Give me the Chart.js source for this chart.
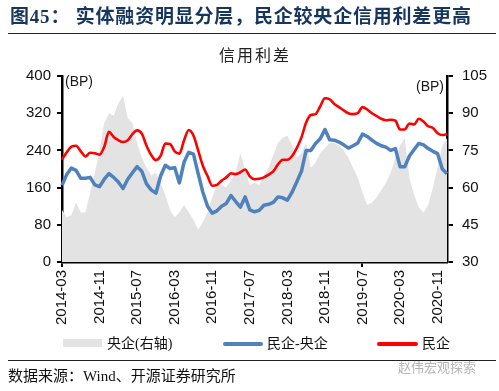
<!DOCTYPE html>
<html>
<head>
<meta charset="utf-8">
<script src="https://cdn.jsdelivr.net/npm/chart.js@4/dist/chart.umd.min.js"></script>
<style>
  body { margin: 0; background: #fff; }
  #page { position: relative; width: 499px; height: 391px; overflow: hidden; background: #fff; }
  #chart { position: absolute; left: 0; top: 0; }
  .txt { position: absolute; white-space: nowrap; font-family: "Liberation Serif", "Noto Sans CJK SC", serif; }
  .rule { position: absolute; left: 8px; width: 488px; height: 1px; background: #222; }
  .lg { position: absolute; }
</style>
</head>
<body>
<div id="page">
  <canvas id="chart" width="499" height="391"></canvas>
  <div class="txt" style="left:10px; top:6px; font-size:19px; line-height:22px; font-weight:bold; color:#17365d; letter-spacing:0.8px;">图45：&nbsp;实体融资明显分层，民企较央企信用利差更高</div>
  <div class="rule" style="top:33px;"></div>
  <div class="txt" style="left:219px; top:45px; font-size:16px; line-height:18px; color:#222; letter-spacing:2px; font-family:'Noto Sans CJK SC', sans-serif;">信用利差</div>

  <div class="lg" style="left:63px; top:339px; width:39px; height:8px; background:#e3e3e3;"></div>
  <div class="txt" style="left:107px; top:335px; font-size:14px; line-height:18px; color:#111;">央企(右轴)</div>
  <div class="lg" style="left:223px; top:342px; width:40px; height:4px; border-radius:2px; background:#4f81bd;"></div>
  <div class="txt" style="left:267px; top:335px; font-size:14px; line-height:18px; color:#111;">民企-央企</div>
  <div class="lg" style="left:377px; top:342px; width:41px; height:4px; border-radius:2px; background:#ff0000;"></div>
  <div class="txt" style="left:422px; top:335px; font-size:14px; line-height:18px; color:#111;">民企</div>

  <div class="rule" style="top:360px;"></div>
  <div class="txt" style="left:8px; top:367px; font-size:15px; line-height:19px; color:#111;">数据来源：Wind、开源证券研究所</div>
  <div class="txt" style="left:398px; top:359px; font-size:13px; line-height:16px; color:#b5b5b5; font-family:'Noto Sans CJK SC', sans-serif;">赵伟宏观探索</div>
</div>

<script>
(function() {

// monthly observations, 2014-03 .. 2021-01
var START_YEAR = 2014, START_MONTH = 3, N_MONTHS = 83;

var tickLabels = ['2014-03', '2014-11', '2015-07', '2016-03', '2016-11', '2017-07',
                  '2018-03', '2018-11', '2019-07', '2020-03', '2020-11'];

// 民企 (BP, left axis)
var privateSpread = [
    220, 236, 248, 250, 238, 227, 235, 234, 231, 248,
    280, 269, 262, 258, 262, 275, 283, 276, 250, 230,
    219, 228, 255, 254, 238, 233, 262, 284, 272, 240,
    207, 185, 164, 166, 175, 182, 191, 189, 193, 199,
    184, 178, 179, 182, 188, 195, 210, 220, 220, 228,
    245, 268, 300, 316, 318, 335, 352, 350, 340, 333,
    326, 320, 318, 320, 333, 328, 320, 314, 308, 305,
    306, 304, 285, 285, 298, 296, 308, 302, 292, 288,
    277, 273, 275
];

// 民企-央企 (BP, left axis)
var gapSpread = [
    165, 188, 202, 197, 180, 180, 182, 166, 162, 178,
    190, 182, 172, 158, 178, 192, 205, 195, 168, 155,
    148, 185, 208, 201, 203, 170, 215, 236, 232, 190,
    150, 120, 105, 110, 120, 126, 143, 130, 118, 140,
    112, 108, 111, 122, 124, 128, 140, 138, 133, 150,
    172, 195, 240, 240, 255, 265, 285, 263, 262, 258,
    252, 245, 250, 256, 275, 270, 262, 255, 250, 247,
    240, 244, 205, 205, 228, 242, 255, 252, 244, 238,
    233, 200, 190
];

// 央企 (BP, right axis)
var soeSpread = [
    51, 48, 49, 54, 50, 50, 58, 66, 75, 86,
    90, 89, 94, 97, 88, 86, 78, 72, 68, 65,
    66, 62, 57, 51, 48, 50, 53, 50, 47, 43,
    46, 50, 56, 61, 61, 60, 63, 66, 74, 67,
    61, 62, 61, 65, 68, 73, 78, 80, 81, 77,
    72, 74, 78, 68, 70, 74, 76, 78, 78, 77,
    75, 72, 68, 64, 58, 53, 54, 56, 59, 62,
    66, 72, 77, 80, 64, 57, 52, 50, 53, 60,
    68, 77, 80
];

var months = [];
var y = START_YEAR, m = START_MONTH;
for (var i = 0; i < N_MONTHS; i++) {
    months.push(y + '-' + (m < 10 ? '0' + m : m));
    m++;
    if (m > 12) { m = 1; y++; }
}

function isTick(i) { return tickLabels.indexOf(months[i]) !== -1; }

var NUM_FONT = { family: '"Liberation Sans", Arial, sans-serif', size: 15 };

var bpLabels = {
    id: 'bpLabels',
    afterDraw: function(chart) {
        var a = chart.chartArea, c = chart.ctx;
        c.save();
        c.font = '14px "Liberation Sans", Arial, sans-serif';
        c.fillStyle = '#1a1a1a';
        c.textBaseline = 'middle';
        c.textAlign = 'left';
        c.fillText('(BP)', a.left + 3, a.top + 6);
        c.textAlign = 'right';
        c.fillText('(BP)', a.right - 3, a.top + 11);
        c.restore();
    }
};

new Chart(document.getElementById('chart').getContext('2d'), {
    type: 'line',
    data: {
        labels: months,
        datasets: [
            { label: '民企', data: privateSpread, yAxisID: 'y', borderColor: '#ff0000', borderWidth: 2.6,
              pointRadius: 0, fill: false, order: 1, borderJoinStyle: 'round', cubicInterpolationMode: 'monotone' },
            { label: '民企-央企', data: gapSpread, yAxisID: 'y', borderColor: '#4f81bd', borderWidth: 3.5,
              pointRadius: 0, fill: false, order: 2, borderJoinStyle: 'round' },
            { label: '央企(右轴)', data: soeSpread, yAxisID: 'y1', borderWidth: 0, borderColor: 'rgba(0,0,0,0)',
              backgroundColor: '#e3e3e3', pointRadius: 0, fill: 'start', order: 3 }
        ]
    },
    options: {
        responsive: false,
        animation: false,
        events: [],
        layout: { padding: { top: 76, bottom: 56, left: 0, right: 0 } },
        plugins: { legend: { display: false }, tooltip: { enabled: false }, title: { display: false } },
        scales: {
            x: {
                type: 'category',
                offset: false,
                border: { display: true, color: '#000', width: 2.5 },
                grid: {
                    drawOnChartArea: false, drawTicks: true, tickLength: 5,
                    color: '#000',
                    lineWidth: function(ctx) { return isTick(ctx.index) ? 2 : 0; }
                },
                ticks: {
                    autoSkip: false, minRotation: 90, maxRotation: 90, padding: 3,
                    color: '#111', font: NUM_FONT,
                    callback: function(val, i) { return isTick(i) ? months[i] : null; }
                },
                afterFit: function(s) { s.height = 73; }
            },
            y: {
                position: 'left', min: 0, max: 400,
                border: { display: true, color: '#000', width: 2.5 },
                grid: { drawOnChartArea: false, drawTicks: true, tickLength: 5, color: '#000', lineWidth: 2 },
                ticks: { stepSize: 80, padding: 6, color: '#111', font: NUM_FONT },
                afterFit: function(s) { s.width = 62; }
            },
            y1: {
                position: 'right', min: 30, max: 105,
                border: { display: true, color: '#000', width: 2.5 },
                grid: { drawOnChartArea: false, drawTicks: true, tickLength: 6, color: '#000', lineWidth: 2 },
                ticks: { stepSize: 15, padding: 9, color: '#111', font: NUM_FONT },
                afterFit: function(s) { s.width = 52; }
            }
        }
    },
    plugins: [bpLabels]
});

})();
</script>
</body>
</html>
